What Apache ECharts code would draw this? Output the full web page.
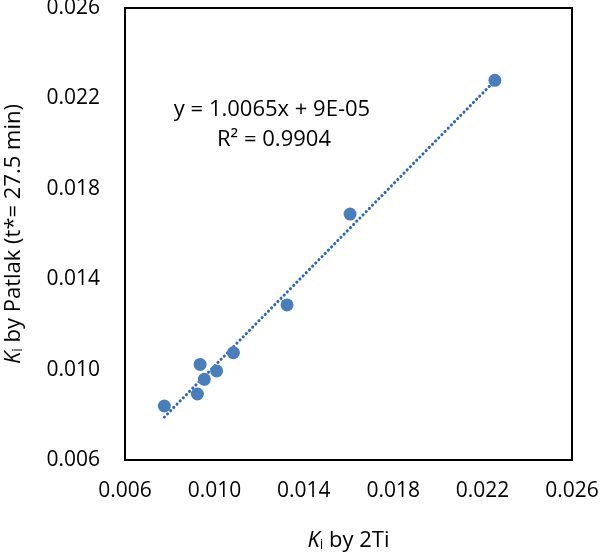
<!DOCTYPE html>
<html>
<head>
<meta charset="utf-8">
<script src="https://cdn.jsdelivr.net/npm/echarts@6/dist/echarts.min.js"></script>
<style>
  html, body { margin: 0; padding: 0; background: #fff; }
  #chart { width: 600px; height: 553px; }
</style>
</head>
<body>
<div id="chart"></div>
<script>
  // Ki by 2Ti (x) vs Ki by Patlak (y)
  const kiTwoTi  = [0.00776, 0.00936, 0.00924, 0.00955, 0.0101, 0.01085, 0.01325, 0.01607, 0.02255];
  const kiPatlak = [0.00839, 0.01023, 0.00892, 0.00957, 0.00994, 0.01075, 0.01286, 0.01688, 0.0228];
  // trendline as printed on the chart
  const slope = 1.0065;
  const intercept = 0.00009;

  const points = kiTwoTi.map((x, i) => [x, kiPatlak[i]]);
  const xMin = Math.min(...kiTwoTi), xMax = Math.max(...kiTwoTi);
  const trend = [xMin, xMax].map(x => [x, slope * x + intercept]);

  const font = 'Open Sans';
  const chart = echarts.init(document.getElementById('chart'));

  const axisCommon = {
    type: 'value',
    min: 0.006,
    max: 0.026,
    interval: 0.004,
    axisLine: { show: true, lineStyle: { color: '#000', width: 2 } },
    axisTick: { show: false },
    splitLine: { show: false },
    axisLabel: {
      color: '#000',
      fontFamily: font,
      fontSize: 21,
      formatter: v => v.toFixed(3)
    },
    nameLocation: 'middle',
    nameTextStyle: {
      color: '#000',
      fontFamily: font,
      fontSize: 22,
      rich: {
        k: { fontFamily: font, fontSize: 22, fontStyle: 'italic', color: '#000' },
        s: { fontFamily: font, fontSize: 14, color: '#000', verticalAlign: 'bottom', lineHeight: 13 },
        t: { fontFamily: font, fontSize: 22, color: '#000' }
      }
    }
  };

  chart.setOption({
    animation: false,
    backgroundColor: '#fff',
    grid: {
      left: 125, top: 8, width: 447, height: 452,
      outerBoundsMode: 'none',
      containLabel: false,
      show: true, borderColor: '#000', borderWidth: 2
    },
    xAxis: Object.assign({}, axisCommon, {
      name: '{k|K}{s|i}{t| by 2Ti}',
      nameGap: 70,
      axisLabel: Object.assign({}, axisCommon.axisLabel, { margin: 21 })
    }),
    yAxis: Object.assign({}, axisCommon, {
      name: '{k|K}{s|i}{t| by Patlak (t*= 27.5 min)}',
      nameGap: 100,
      axisLabel: Object.assign({}, axisCommon.axisLabel, { margin: 25 })
    }),
    graphic: [
      {
        type: 'text',
        style: {
          x: 272, y: 110, text: 'y = 1.0065x + 9E-05', align: 'center', verticalAlign: 'middle',
          fontFamily: font, fontSize: 22, fill: '#000'
        }
      },
      {
        type: 'text',
        style: {
          x: 274, y: 140, text: 'R² = 0.9904', align: 'center', verticalAlign: 'middle',
          fontFamily: font, fontSize: 22, fill: '#000'
        }
      }
    ],
    series: [
      {
        type: 'line',
        data: trend,
        symbol: 'none',
        lineStyle: { color: '#2a66bb', width: 3, type: [0.1, 4.4], cap: 'round' },
        z: 2
      },
      {
        type: 'scatter',
        data: points,
        symbolSize: 13,
        itemStyle: { color: '#4a7ebb', opacity: 1 },
        z: 3
      }
    ]
  });
</script>
</body>
</html>
